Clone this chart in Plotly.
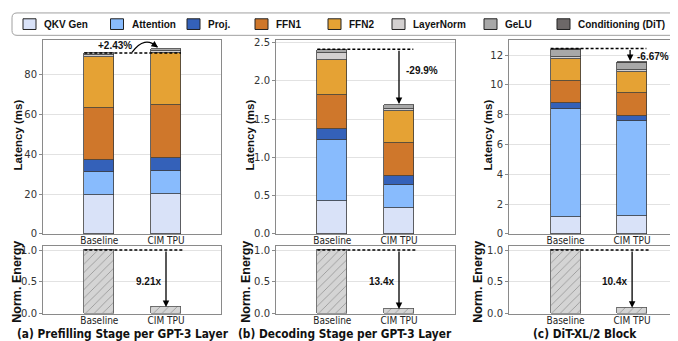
import plotly.graph_objects as go

W, H = 678, 341

categories = ["Baseline", "CIM TPU"]
components = ["QKV Gen", "Attention", "Proj.", "FFN1", "FFN2", "LayerNorm", "GeLU", "Conditioning (DiT)"]
colors = ["#d9e2f8", "#88bbfd", "#3461b9", "#cf772b", "#e5a234", "#d3d0d0", "#a8a8a8", "#6d6868"]

# latency (ms) per component: [Baseline, CIM TPU]
prefill = {
    "QKV Gen": [19.2, 20.0], "Attention": [11.6, 11.3], "Proj.": [6.3, 6.7],
    "FFN1": [25.8, 26.5], "FFN2": [25.6, 26.0], "LayerNorm": [0.8, 0.9], "GeLU": [1.3, 1.0],
}
decode = {
    "QKV Gen": [0.425, 0.335], "Attention": [0.798, 0.302], "Proj.": [0.144, 0.119],
    "FFN1": [0.442, 0.433], "FFN2": [0.458, 0.420], "LayerNorm": [0.090, 0.026], "GeLU": [0.046, 0.051],
}
dit = {
    "QKV Gen": [1.13, 1.17], "Attention": [7.24, 6.37], "Proj.": [0.41, 0.39],
    "FFN1": [1.50, 1.50], "FFN2": [1.44, 1.44], "LayerNorm": [0.12, 0.10], "GeLU": [0.48, 0.50],
    "Conditioning (DiT)": [0.05, 0.05],
}
panels_latency = [prefill, decode, dit]

energy = [[1.0, 1 / 9.21], [1.0, 1 / 13.4], [1.0, 1 / 10.4]]
latency_change = ["+2.43%", "-29.9%", "-6.67%"]
energy_gain = ["9.21x", "13.4x", "10.4x"]
titles = ["(a) Prefilling Stage per GPT-3 Layer", "(b) Decoding Stage per GPT-3 Layer", "(c) DiT-XL/2 Block"]

# ---------------- layout geometry (pixels) ----------------
xpix = [(35, 213), (268, 447), (501, 676)]
xranges = [[-0.845, 1.825], [-0.845, 1.84], [-0.85, 1.78]]
yranges = [[0, 97], [0, 2.53], [0, 13]]
up_pix = (30, 229)
en_pix = (241, 311)
BW = 0.45

def px(x):
    return x / W

def py(y):
    return 1 - y / H

fig = go.Figure()

for ci, comp in enumerate(components):
    for p, data in enumerate(panels_latency):
        if comp not in data:
            continue
        fig.add_trace(go.Bar(
            x=[0, 1], y=data[comp], width=BW, name=comp,
            marker=dict(color=colors[ci], line=dict(color="#3c3c3c", width=0.8)),
            xaxis=f"x{p+1}", yaxis=f"y{p+1}", showlegend=False,
        ))

for p in range(3):
    fig.add_trace(go.Bar(
        x=[0, 1], y=energy[p], width=BW, showlegend=False, name="Norm. Energy",
        marker=dict(color="#d4d4d4", line=dict(color="#555555", width=0.8),
                    pattern=dict(shape="/", fgcolor="#5a5a5a", bgcolor="#d4d4d4", size=6, solidity=0.14)),
        xaxis=f"x{p+4}", yaxis=f"y{p+4}",
    ))

tickfont = dict(family="DejaVu Sans", size=10, color="#333333")
catfont = dict(family="DejaVu Sans Condensed, Liberation Sans Narrow, Liberation Sans", size=10, color="#222222")
axcommon = dict(showline=True, linecolor="#8a8a8a", linewidth=1, mirror=True, zeroline=False)

lay = {}
for p in range(3):
    xd = [px(xpix[p][0]), px(xpix[p][1])]
    lay[f"xaxis{p+1}"] = dict(domain=xd, range=xranges[p], anchor=f"y{p+1}", tickvals=[0, 1],
                              ticktext=categories, tickfont=catfont, showgrid=False, ticks="",
                              ticklabelstandoff=-3, **axcommon)
    lay[f"yaxis{p+1}"] = dict(domain=[py(up_pix[1]), py(up_pix[0])], range=yranges[p], anchor=f"x{p+1}",
                              tickfont=tickfont, showgrid=True, gridcolor="#e2e2e2", gridwidth=1,
                              ticks="outside", ticklen=3, tickcolor="#8a8a8a", **axcommon)
    lay[f"xaxis{p+4}"] = dict(domain=xd, range=xranges[p], anchor=f"y{p+4}", tickvals=[0, 1],
                              ticktext=categories, tickfont=catfont, showgrid=False, ticks="",
                              ticklabelstandoff=-3, **axcommon)
    lay[f"yaxis{p+4}"] = dict(domain=[py(en_pix[1]), py(en_pix[0])], range=[0, 1.07], anchor=f"x{p+4}",
                              tickvals=[0, 0.5, 1.0], ticktext=["0.0", "0.5", "1.0"],
                              tickfont=tickfont, showgrid=True, gridcolor="#e2e2e2", gridwidth=1,
                              ticks="outside", ticklen=3, tickcolor="#8a8a8a", **axcommon)

yup_dtick = [20, 0.5, 2]
for p in range(3):
    lay[f"yaxis{p+1}"]["dtick"] = yup_dtick[p]
    lay[f"yaxis{p+1}"]["tick0"] = 0
lay["yaxis2"]["tickformat"] = ".1f"

shapes = []
annotations = []

# ---------------- legend (drawn) ----------------
x0, x1, y0, y1, r = 4, 675, 2, 25, 5
path = (f"M {px(x0+r)},{py(y0)} L {px(x1-r)},{py(y0)} Q {px(x1)},{py(y0)} {px(x1)},{py(y0+r)} "
        f"L {px(x1)},{py(y1-r)} Q {px(x1)},{py(y1)} {px(x1-r)},{py(y1)} L {px(x0+r)},{py(y1)} "
        f"Q {px(x0)},{py(y1)} {px(x0)},{py(y1-r)} L {px(x0)},{py(y0+r)} Q {px(x0)},{py(y0)} {px(x0+r)},{py(y0)} Z")
shapes.append(dict(type="path", xref="paper", yref="paper", path=path,
                   line=dict(color="#a0a0a0", width=1)))
sw_left = [15, 102.5, 179, 247, 320, 384, 476, 549]
for i, comp in enumerate(components):
    shapes.append(dict(type="rect", xref="paper", yref="paper",
                       x0=px(sw_left[i]), x1=px(sw_left[i] + 13), y0=py(19), y1=py(8),
                       fillcolor=colors[i], line=dict(color="#222222", width=1)))
    annotations.append(dict(xref="paper", yref="paper", x=px(sw_left[i] + 19), y=py(13.5),
                            xanchor="left", yanchor="middle", text=f"<b>{comp}</b>", showarrow=False,
                            font=dict(family="Liberation Sans", size=10, color="#111111")))

dash = "3px,2px"
bold = dict(family="Liberation Sans", size=10, color="#111111")

# (a) prefill: dashed line + curved arrow
base_a = sum(v[0] for v in prefill.values())
cim_a = sum(v[1] for v in prefill.values())
shapes.append(dict(type="line", xref="x1", yref="y1", x0=-BW / 2, x1=1 + BW / 2, y0=base_a, y1=base_a,
                   line=dict(color="black", width=1.5, dash=dash)))
shapes.append(dict(type="path", xref="x1", yref="y1",
                   path=f"M 0.49,{base_a + 0.3} Q 0.68,{base_a + 9} 0.87,{cim_a + 1.2}",
                   line=dict(color="black", width=1.3)))
annotations.append(dict(xref="x1", yref="y1", x=0.88, y=cim_a + 1.0, ax=-5, ay=-3.5, text="",
                        showarrow=True, arrowhead=2, arrowsize=1, arrowwidth=1.3, arrowcolor="black"))
annotations.append(dict(xref="x1", yref="y1", x=0.23, y=base_a + 3.7, xanchor="center", yanchor="middle",
                        text=f"<b>{latency_change[0]}</b>", showarrow=False, font=bold))

# (b) decode, (c) dit: dashed + vertical arrow
for p, (data, txt_xy, arrow_x) in enumerate([(decode, (1.07, 2.14), 1.0), (dit, (1.04, 11.93), 0.97)], start=1):
    b = sum(v[0] for v in data.values())
    c = sum(v[1] for v in data.values())
    yline = b + (0.01 if p == 1 else 0.08)
    shapes.append(dict(type="line", xref=f"x{p+1}", yref=f"y{p+1}", x0=-BW / 2, x1=1 + BW / 2 - 0.01,
                       y0=yline, y1=yline, line=dict(color="black", width=1.5, dash=dash)))
    annotations.append(dict(xref=f"x{p+1}", yref=f"y{p+1}", axref=f"x{p+1}", ayref=f"y{p+1}",
                            x=arrow_x, y=c + (0.01 if p == 1 else 0.08), ax=arrow_x, ay=yline, text="",
                            showarrow=True, arrowhead=2, arrowsize=1, arrowwidth=1.3, arrowcolor="black"))
    annotations.append(dict(xref=f"x{p+1}", yref=f"y{p+1}", x=txt_xy[0], y=txt_xy[1], xanchor="left",
                            yanchor="middle", text=f"<b>{latency_change[p]}</b>", showarrow=False, font=bold))

# energy panels
for p in range(3):
    xr, yr = f"x{p+4}", f"y{p+4}"
    shapes.append(dict(type="line", xref=xr, yref=yr, x0=-BW / 2, x1=1.25, y0=1.0, y1=1.0,
                       line=dict(color="black", width=1.5, dash=dash)))
    annotations.append(dict(xref=xr, yref=yr, axref=xr, ayref=yr, x=1.0, y=energy[p][1], ax=1.0, ay=1.0,
                            text="", showarrow=True, arrowhead=2, arrowsize=1, arrowwidth=1.3,
                            arrowcolor="black"))
    annotations.append(dict(xref=xr, yref=yr, x=0.95, y=0.5, xanchor="right", yanchor="middle",
                            text=f"<b>{energy_gain[p]}</b>", showarrow=False, font=bold))

# axis titles
lat_x = [10, 242, 480]
en_x = [9, 238, 470]
for p in range(3):
    annotations.append(dict(xref="paper", yref="paper", x=px(lat_x[p]), y=py(128), textangle=-90,
                            xanchor="center", yanchor="middle",
                            text="<b>Latency (ms)</b>", showarrow=False,
                            font=dict(family="Liberation Sans", size=11.5, color="#111111")))
    annotations.append(dict(xref="paper", yref="paper", x=px(en_x[p]), y=py(278), textangle=-90,
                            xanchor="center", yanchor="middle",
                            text="<b>Norm. Energy</b>", showarrow=False,
                            font=dict(family="Liberation Sans", size=12.5, color="#111111")))

title_x = [114.5, 337, 577]
for p in range(3):
    annotations.append(dict(xref="paper", yref="paper", x=px(title_x[p]), y=py(331.5),
                            xanchor="center", yanchor="middle",
                            text=f"<b>{titles[p]}</b>", showarrow=False,
                            font=dict(family="DejaVu Sans Condensed, Liberation Sans Narrow, Liberation Sans",
                                      size=11.8, color="#111111")))

fig.update_layout(
    width=W, height=H, margin=dict(l=0, r=0, t=0, b=0),
    paper_bgcolor="white", plot_bgcolor="white", barmode="stack", bargap=0,
    showlegend=False,
    shapes=shapes, annotations=annotations, **lay,
)

fig.write_html("out.html")
